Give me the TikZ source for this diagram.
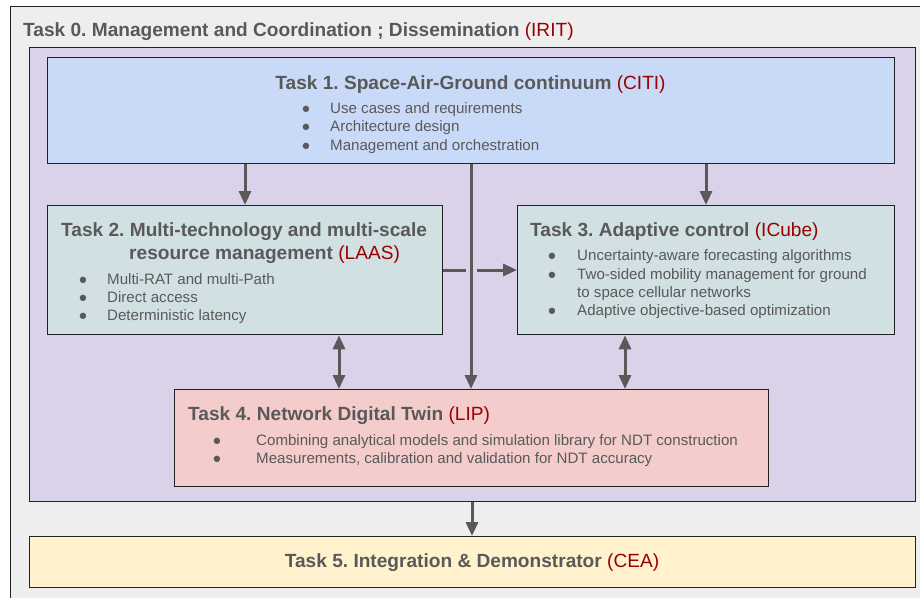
\documentclass[tikz,border=0pt]{standalone}
\usepackage{fontspec}
\setmainfont{Liberation Sans}
\usetikzlibrary{arrows.meta}
\frenchspacing
\definecolor{tgrey}{HTML}{595959}
\definecolor{tred}{HTML}{990000}
\definecolor{bgout}{HTML}{EEEEEE}
\definecolor{lavbg}{HTML}{D9D2E9}
\definecolor{blubg}{HTML}{C9DAF8}
\definecolor{tealbg}{HTML}{D0E0E3}
\definecolor{pnkbg}{HTML}{F4CCCC}
\definecolor{yelbg}{HTML}{FFF2CC}
\definecolor{edgec}{HTML}{222222}
\newcommand{\orgname}[1]{\textcolor{tred}{\mdseries(#1)}}
\tikzset{
  box/.style={draw=edgec, line width=1.3pt, inner sep=0pt, anchor=north west},
  ttl/.style={anchor=base west, inner sep=0pt, text=tgrey, font=\fontsize{19.1}{22}\selectfont\bfseries},
  itm/.style={anchor=base west, inner sep=0pt, text=tgrey, font=\fontsize{15.1}{18}\selectfont},
  bul/.style={anchor=base, inner sep=0pt, text=tgrey, font=\fontsize{14.67}{18}\selectfont},
  arr/.style={draw=tgrey, line width=3pt, -{Triangle[length=14pt,width=12pt]}},
  darr/.style={draw=tgrey, line width=3pt, {Triangle[length=14pt,width=12pt]}-{Triangle[length=14pt,width=12pt]}},
  lne/.style={draw=tgrey, line width=3pt},
}
\begin{document}
\begin{tikzpicture}[x=1pt,y=-1pt]
\useasboundingbox (0,0) rectangle (920,597);
\clip (0,0) rectangle (920,597);
% outer Task 0 box
\node[box, fill=bgout, minimum width=930pt, minimum height=610pt] (t0) at (10,5.5) {};
\node[ttl] (t0title) at (23,36) {Task 0. Management and Coordination ; Dissemination \orgname{IRIT}};
% lavender container
\node[box, fill=lavbg, minimum width=886pt, minimum height=454pt] (lav) at (29,47) {};
% Task 1
\node[box, fill=blubg, minimum width=847pt, minimum height=106pt] (t1) at (47,57) {};
\node[ttl, anchor=base] (t1title) at (470.5,89) {Task 1. Space-Air-Ground continuum \orgname{CITI}};
\node[bul] (t1b1) at (306,113.5) {●};
\node[bul] (t1b2) at (306,131.8) {●};
\node[bul] (t1b3) at (306,150) {●};
\node[itm] (t1i1) at (330,113.5) {Use cases and requirements};
\node[itm] (t1i2) at (330,131.8) {Architecture design};
\node[itm] (t1i3) at (330,150) {Management and orchestration};
% Task 2
\node[box, fill=tealbg, minimum width=395pt, minimum height=129pt] (t2) at (47,205) {};
\node[ttl] (t2title1) at (61,236) {Task 2. Multi-technology and multi-scale};
\node[ttl] (t2title2) at (129,259.3) {resource management \orgname{LAAS}};
\node[bul] (t2b1) at (83,284) {●};
\node[bul] (t2b2) at (83,302.4) {●};
\node[bul] (t2b3) at (83,320.8) {●};
\node[itm] (t2i1) at (107,284) {Multi-RAT and multi-Path};
\node[itm] (t2i2) at (107,302.4) {Direct access};
\node[itm] (t2i3) at (107,320.8) {Deterministic latency};
% Task 3
\node[box, fill=tealbg, minimum width=377pt, minimum height=129pt] (t3) at (517,205) {};
\node[ttl] (t3title) at (530,236) {Task 3. Adaptive control \orgname{ICube}};
\node[bul] (t3b1) at (552,260.7) {●};
\node[bul] (t3b2) at (552,279.1) {●};
\node[bul] (t3b4) at (552,315.9) {●};
\node[itm] (t3i1) at (577,260.7) {Uncertainty-aware forecasting algorithms};
\node[itm] (t3i2) at (577,279.1) {Two-sided mobility management for ground};
\node[itm] (t3i3) at (577,297.5) {to space cellular networks};
\node[itm] (t3i4) at (577,315.9) {Adaptive objective-based optimization};
% Task 4
\node[box, fill=pnkbg, minimum width=594pt, minimum height=97pt] (t4) at (174,389) {};
\node[ttl] (t4title) at (188,420) {Task 4. Network Digital Twin \orgname{LIP}};
\node[bul] (t4b1) at (217,445) {●};
\node[bul] (t4b2) at (217,463.4) {●};
\node[itm] (t4i1) at (256,445) {Combining analytical models and simulation library for NDT construction};
\node[itm] (t4i2) at (256,463.4) {Measurements, calibration and validation for NDT accuracy};
% Task 5
\node[box, fill=yelbg, minimum width=886pt, minimum height=51pt] (t5) at (29,536) {};
\node[ttl, anchor=base] (t5title) at (472,567.3) {Task 5. Integration \& Demonstrator \orgname{CEA}};
% connector helper coordinates
\coordinate (xa) at (245,0);
\coordinate (xb) at (471,0);
\coordinate (xc) at (706,0);
\coordinate (xd) at (339,0);
\coordinate (xe) at (625,0);
\coordinate (xf) at (472,0);
\coordinate (ya) at (0,270);
\coordinate (gapl) at (466,270);
\coordinate (gapr) at (477,270);
% connectors
\draw[arr] (t1.south -| xa) -- (t2.north -| xa);
\draw[arr] (t1.south -| xc) -- (t3.north -| xc);
\draw[arr] (t1.south -| xb) -- (t4.north -| xb);
\draw[lne] (t2.east |- ya) -- (gapl);
\draw[arr] (gapr) -- (t3.west |- ya);
\draw[darr] (t2.south -| xd) -- (t4.north -| xd);
\draw[darr] (t3.south -| xe) -- (t4.north -| xe);
\draw[arr] (lav.south -| xf) -- (t5.north -| xf);
\end{tikzpicture}
\end{document}
